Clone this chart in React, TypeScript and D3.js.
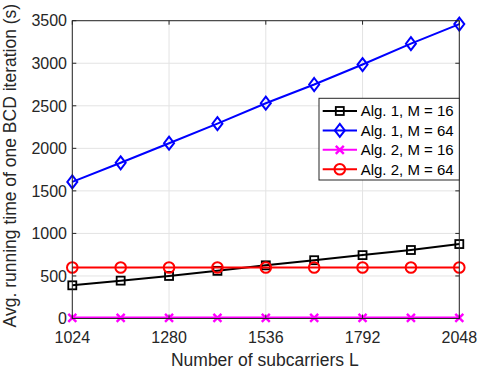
import React from "react";
import * as d3 from "d3";

// subcarrier counts on the x axis
const subcarriers = [1024, 1152, 1280, 1408, 1536, 1664, 1792, 1920, 2048];
const xTicks = [1024, 1280, 1536, 1792, 2048];
const yTicks = [0, 500, 1000, 1500, 2000, 2500, 3000, 3500];

// running time per BCD iteration (s)
const alg1M16 = [390, 445, 500, 560, 625, 685, 745, 805, 875];
const alg1M64 = [1605, 1830, 2060, 2290, 2530, 2750, 2985, 3230, 3460];
const alg2M16 = [8, 8, 8, 8, 8, 8, 8, 8, 8];
const alg2M64 = [600, 600, 600, 600, 600, 600, 600, 600, 600];

const seriesNames = ["Alg. 1, M = 16", "Alg. 1, M = 64", "Alg. 2, M = 16", "Alg. 2, M = 64"];
const seriesColors = ["#000000", "#0000ff", "#ff00ff", "#ff0000"];
const seriesMarkers = ["square", "diamond", "cross", "circle"];

const W = 477;
const H = 377;
const left = 72.3;
const right = 459.3;
const top = 20.7;
const bottom = 318.5;
const font = "'Liberation Sans', Arial, Helvetica, sans-serif";
const ink = "#262626";

function Marker({ kind, x, y, color }: { kind: string; x: number; y: number; color: string }) {
  if (kind === "square") {
    return <rect x={x - 4} y={y - 4} width={8} height={8} fill="none" stroke={color} strokeWidth={1.8} />;
  }
  if (kind === "diamond") {
    return (
      <path
        d={`M${x},${y - 6.5}L${x + 5},${y}L${x},${y + 6.5}L${x - 5},${y}Z`}
        fill="none"
        stroke={color}
        strokeWidth={2}
      />
    );
  }
  if (kind === "circle") {
    return <circle cx={x} cy={y} r={5.3} fill="none" stroke={color} strokeWidth={2} />;
  }
  return (
    <path
      d={`M${x - 4},${y - 4}L${x + 4},${y + 4}M${x - 4},${y + 4}L${x + 4},${y - 4}`}
      stroke={color}
      strokeWidth={2.4}
    />
  );
}

export default function App() {
  const x = d3.scaleLinear().domain([1024, 2048]).range([left, right]);
  const y = d3.scaleLinear().domain([0, 3500]).range([bottom, top]);
  const allSeries = [alg1M16, alg1M64, alg2M16, alg2M64];
  const line = d3
    .line<number>()
    .x((_, i) => x(subcarriers[i]))
    .y((d) => y(d));

  const legX = 319;
  const legY = 98.3;
  const legW = right - legX;
  const legH = 81.7;

  return (
    <svg
      width={W}
      height={H}
      style={{ position: "absolute", left: 0, top: 0, background: "#fff" }}
      fontFamily={font}
    >
      <rect x={0} y={0} width={W} height={H} fill="#fff" />
      {/* grid */}
      {xTicks.map((t) => (
        <line key={"gx" + t} x1={x(t)} x2={x(t)} y1={top} y2={bottom} stroke="#e3e3e3" strokeWidth={1} />
      ))}
      {yTicks.map((t) => (
        <line key={"gy" + t} x1={left} x2={right} y1={y(t)} y2={y(t)} stroke="#e3e3e3" strokeWidth={1} />
      ))}

      {/* series */}
      {allSeries.map((s, k) => (
        <g key={seriesNames[k]}>
          <path d={line(s) || ""} fill="none" stroke={seriesColors[k]} strokeWidth={k === 2 ? 2.4 : 2} />
          {s.map((v, i) => (
            <Marker key={i} kind={seriesMarkers[k]} x={x(subcarriers[i])} y={y(v)} color={seriesColors[k]} />
          ))}
        </g>
      ))}

      {/* axes box */}
      <rect x={left} y={top} width={right - left} height={bottom - top} fill="none" stroke={ink} strokeWidth={1} />
      {xTicks.map((t) => (
        <g key={"tx" + t}>
          <line x1={x(t)} x2={x(t)} y1={bottom} y2={bottom - 4} stroke={ink} />
          <line x1={x(t)} x2={x(t)} y1={top} y2={top + 4} stroke={ink} />
          <text x={x(t)} y={343} textAnchor="middle" fontSize={16} fill={ink}>
            {t}
          </text>
        </g>
      ))}
      {yTicks.map((t) => (
        <g key={"ty" + t}>
          <line x1={left} x2={left + 4} y1={y(t)} y2={y(t)} stroke={ink} />
          <line x1={right} x2={right - 4} y1={y(t)} y2={y(t)} stroke={ink} />
          <text x={67} y={y(t)} dy="0.36em" textAnchor="end" fontSize={16} fill={ink}>
            {t}
          </text>
        </g>
      ))}

      {/* axis labels */}
      <text x={(left + right) / 2 - 1} y={366} textAnchor="middle" fontSize={17.5} fill={ink}>
        Number of subcarriers L
      </text>
      <text
        transform={`translate(16,${(top + bottom) / 2 - 4}) rotate(-90)`}
        textAnchor="middle"
        fontSize={17.5}
        fill={ink}
      >
        Avg. running time of one BCD iteration (s)
      </text>

      {/* legend */}
      <rect x={legX} y={legY} width={legW} height={legH} fill="#fff" stroke={ink} strokeWidth={1} />
      {seriesNames.map((name, k) => {
        const ly = legY + 12.7 + k * 19.4;
        return (
          <g key={"leg" + name}>
            <line x1={322.7} x2={357} y1={ly} y2={ly} stroke={seriesColors[k]} strokeWidth={2} />
            <Marker kind={seriesMarkers[k]} x={339.8} y={ly} color={seriesColors[k]} />
            <text x={360.7} y={ly} dy="0.36em" fontSize={15} fill="#000">
              {name}
            </text>
          </g>
        );
      })}
    </svg>
  );
}
